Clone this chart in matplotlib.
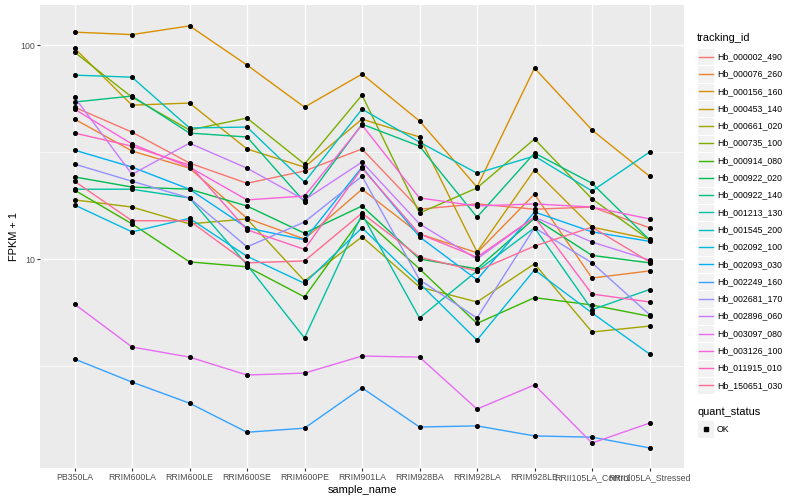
import numpy as np
import matplotlib.pyplot as plt
from matplotlib.patches import Rectangle
from matplotlib.ticker import FixedLocator, NullFormatter

plt.rcParams['font.family'] = ['Liberation Sans', 'DejaVu Sans']

samples = ["PB350LA", "RRIM600LA", "RRIM600LE", "RRIM600SE", "RRIM600PE",
           "RRIM901LA", "RRIM928BA", "RRIM928LA", "RRIM928LE",
           "RRII105LA_Control", "RRII105LA_Stressed"]

tracking_ids = ["Hb_000002_490", "Hb_000076_260", "Hb_000156_160", "Hb_000453_140",
                "Hb_000661_020", "Hb_000735_100", "Hb_000914_080", "Hb_000922_020",
                "Hb_000922_140", "Hb_001213_130", "Hb_001545_200", "Hb_002092_100",
                "Hb_002093_030", "Hb_002249_160", "Hb_002681_170", "Hb_002896_060",
                "Hb_003097_080", "Hb_003126_100", "Hb_011915_010", "Hb_150651_030"]

# ggplot hue palette, 20 levels
colors = ["#F8766D", "#EA8331", "#D89000", "#C09B00", "#A3A500", "#7CAE00",
          "#39B600", "#00BB4E", "#00BF7D", "#00C1A3", "#00BFC4", "#00BAE0",
          "#00B0F6", "#35A2FF", "#9590FF", "#C77CFF", "#E76BF3", "#FA62DB",
          "#FF62BC", "#FF6C91"]

# FPKM + 1, one value per sample
hb_000002_490 = [51.3, 39.2, 28.1, 22.6, 25.8, 32.7, 17.1, 18.1, 17.1, 17.5, 14.0]
hb_000076_260 = [45.1, 32.0, 26.6, 15.5, 12.4, 21.2, 13.1, 10.7, 20.1, 8.15, 8.8]
hb_000156_160 = [115, 112, 123, 80.7, 51.3, 73.2, 44.2, 21.7, 78.1, 40.1, 24.4]
hb_000453_140 = [96.8, 52.4, 53.6, 32.7, 26.9, 45.1, 37.2, 10.8, 26.1, 14.1, 12.4]
hb_000661_020 = [18.9, 17.5, 14.6, 15.4, 7.9, 12.7, 7.4, 6.3, 9.5, 4.56, 4.86]
hb_000735_100 = [92.7, 57.1, 40.1, 45.6, 27.8, 58.4, 16.4, 21.5, 36.4, 19.1, 12.3]
hb_000914_080 = [21.0, 14.6, 9.7, 9.2, 6.65, 15.7, 9.0, 5.0, 6.6, 6.1, 5.4]
hb_000922_020 = [24.2, 21.7, 21.2, 17.7, 13.2, 17.7, 10.0, 9.0, 15.5, 10.4, 9.6]
hb_000922_140 = [54.2, 57.8, 38.8, 37.2, 18.5, 42.7, 33.7, 15.7, 31.3, 22.6, 12.3]
hb_001213_130 = [21.2, 21.2, 19.3, 9.4, 4.28, 16.2, 5.3, 8.8, 14.0, 5.8, 7.2]
hb_001545_200 = [72.4, 70.8, 41.0, 41.4, 22.9, 50.2, 35.2, 25.2, 30.3, 20.8, 31.6]
hb_002092_100 = [17.9, 13.4, 15.5, 10.3, 7.7, 14.0, 7.7, 4.18, 8.9, 5.6, 3.6]
hb_002093_030 = [32.3, 26.9, 21.2, 14.0, 12.3, 26.9, 12.7, 8.0, 16.6, 13.4, 12.1]
hb_002249_160 = [3.41, 2.66, 2.12, 1.55, 1.62, 2.50, 1.64, 1.66, 1.49, 1.47, 1.31]
hb_002681_170 = [27.8, 23.1, 19.3, 11.4, 14.9, 24.4, 8.0, 5.3, 14.0, 9.6, 5.5]
hb_002896_060 = [57.1, 24.9, 34.8, 26.6, 18.9, 28.4, 14.6, 10.0, 15.7, 12.0, 9.9]
hb_003097_080 = [6.16, 3.88, 3.48, 2.87, 2.93, 3.52, 3.48, 1.99, 2.58, 1.38, 1.71]
hb_003126_100 = [50.2, 34.5, 26.9, 18.9, 19.7, 42.3, 19.3, 17.7, 18.1, 17.5, 15.4]
hb_011915_010 = [38.8, 33.7, 27.5, 13.7, 11.1, 26.6, 13.1, 10.2, 15.7, 6.86, 6.3]
hb_150651_030 = [23.1, 15.1, 15.1, 9.6, 9.8, 16.4, 10.2, 8.8, 11.5, 14.1, 9.7]

series = [hb_000002_490, hb_000076_260, hb_000156_160, hb_000453_140, hb_000661_020,
          hb_000735_100, hb_000914_080, hb_000922_020, hb_000922_140, hb_001213_130,
          hb_001545_200, hb_002092_100, hb_002093_030, hb_002249_160, hb_002681_170,
          hb_002896_060, hb_003097_080, hb_003126_100, hb_011915_010, hb_150651_030]

fig = plt.figure(figsize=(8, 5), dpi=100)
ax = fig.add_axes([0.05, 0.064, 0.805, 0.926])
ax.set_facecolor("#EBEBEB")

x = np.arange(len(samples))
for vals, col in zip(series, colors):
    ax.plot(x, vals, color=col, lw=1.0, zorder=3)
for vals in series:
    ax.plot(x, vals, marker="o", color="black", ms=2.6, linestyle="none", zorder=4)

ax.set_yscale("log")
ax.set_ylim(1.055, 154)
ax.set_xlim(-0.6, 10.6)

ax.set_xticks(x)
ax.set_xticklabels(samples)
ax.set_yticks([10, 100])
ax.set_yticklabels(["10", "100"])
ax.yaxis.set_minor_locator(FixedLocator([10 ** 0.5, 10 ** 1.5]))
ax.yaxis.set_minor_formatter(NullFormatter())
ax.tick_params(which="major", length=2, width=0.8, color="#333333",
               labelsize=6.3, labelcolor="#4D4D4D", pad=1.6)
ax.tick_params(which="minor", length=0)

ax.grid(which="major", color="white", lw=1.0)
ax.grid(which="minor", axis="y", color="white", lw=0.5)
ax.set_axisbelow(True)
for s in ax.spines.values():
    s.set_visible(False)

ax.set_xlabel("sample_name", fontsize=7.9, labelpad=2)
ax.set_ylabel("FPKM + 1", fontsize=7.9, labelpad=1)

# legends drawn by hand in pixel coordinates
lax = fig.add_axes([0, 0, 1, 1])
lax.set_xlim(0, 800)
lax.set_ylim(500, 0)
lax.axis("off")

lax.text(697, 38, "tracking_id", fontsize=7.9, va="center", ha="left")
for i, (tid, col) in enumerate(zip(tracking_ids, colors)):
    cy = 56.7 + 17.3 * i
    lax.add_patch(Rectangle((697, cy - 8.6), 17.3, 17.3, fc="#F2F2F2", ec="white", lw=0.7))
    lax.plot([698.5, 712.5], [cy, cy], color=col, lw=1.0)
    lax.text(717, cy, tid, fontsize=6.3, va="center", ha="left")

lax.text(697, 412, "quant_status", fontsize=7.9, va="center", ha="left")
lax.add_patch(Rectangle((697, 429 - 8.6), 17.3, 17.3, fc="#F2F2F2", ec="white", lw=0.7))
lax.plot([705.6], [429], marker="s", color="black", ms=2.4)
lax.text(717, 429, "OK", fontsize=6.3, va="center", ha="left")

fig.savefig("out.png", dpi=100)
